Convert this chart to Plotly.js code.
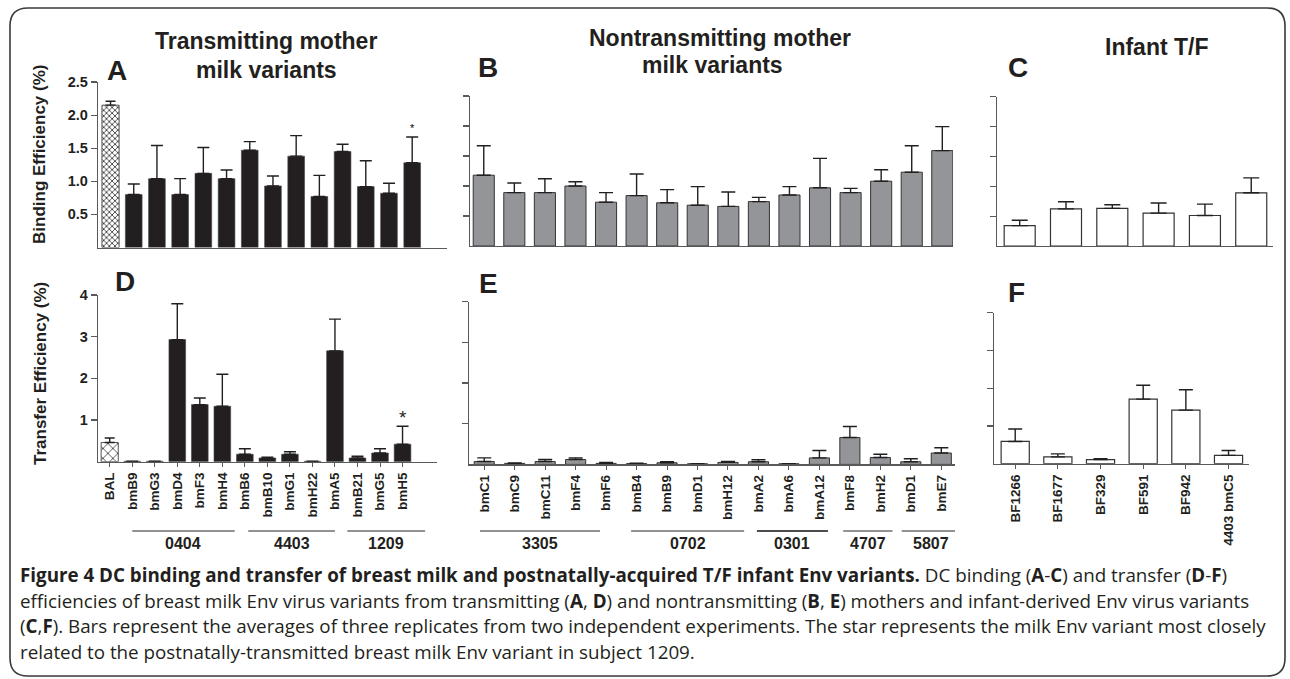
<!DOCTYPE html>
<html><head><meta charset="utf-8">
<script src="https://cdn.plot.ly/plotly-3.0.1.min.js"></script>
<style>html,body{margin:0;padding:0;background:#fff}#chart{width:1290px;height:679px}</style>
</head><body><div id="chart"></div>
<script>
// ---------- data ----------
const transLabels = ['BAL','bmB9','bmG3','bmD4','bmF3','bmH4','bmB6','bmB10','bmG1','bmH22','bmA5','bmB21','bmG5','bmH5'];
const transBinding    = [2.15,0.80,1.04,0.80,1.12,1.04,1.47,0.93,1.38,0.77,1.45,0.92,0.82,1.28];
const transBindingErr = [0.06,0.16,0.50,0.24,0.39,0.13,0.13,0.15,0.31,0.32,0.11,0.39,0.15,0.39];
const transTransfer    = [0.46,0.01,0.01,2.93,1.37,1.33,0.18,0.09,0.18,0.01,2.66,0.09,0.21,0.42];
const transTransferErr = [0.11,0.00,0.00,0.86,0.16,0.77,0.13,0.015,0.06,0.00,0.76,0.04,0.10,0.43];

const nonLabels = ['bmC1','bmC9','bmC11','bmF4','bmF6','bmB4','bmB9','bmD1','bmH12','bmA2','bmA6','bmA12','bmF8','bmH2','bmD1','bmE7'];
const nonBinding    = [1.18,0.89,0.89,1.00,0.73,0.84,0.72,0.68,0.66,0.74,0.85,0.97,0.89,1.08,1.23,1.59];
const nonBindingErr = [0.49,0.16,0.23,0.07,0.16,0.36,0.22,0.31,0.24,0.07,0.14,0.49,0.07,0.19,0.44,0.40];
const nonTransfer    = [0.07,0.025,0.07,0.12,0.025,0.02,0.04,0.015,0.05,0.065,0.015,0.16,0.66,0.17,0.065,0.28];
const nonTransferErr = [0.09,0.01,0.05,0.04,0.025,0.01,0.025,0.0,0.025,0.05,0.0,0.18,0.27,0.08,0.075,0.13];

const infLabels = ['BF1266','BF1677','BF329','BF591','BF942','4403 bmC5'];
const infBinding    = [0.34,0.62,0.63,0.55,0.51,0.89];
const infBindingErr = [0.09,0.12,0.06,0.17,0.19,0.25];
const infTransfer    = [0.59,0.18,0.11,1.71,1.42,0.22];
const infTransferErr = [0.33,0.08,0.02,0.37,0.54,0.13];

const bindTicks = [0.5,1.0,1.5,2.0,2.5];
const transferTicks = [1,2,3,4];

// subject groups: [label, extent start, extent end] in category-index units
const transGroups = [['0404',1.0,5.55],['4403',6.15,10.0],['1209',10.55,14.0]];
const nonGroups = [['3305',-0.14,3.8],['0702',4.82,8.53],['0301',8.95,11.28],['4707',11.78,13.4],['5807',13.7,15.6]];

// ---------- helpers ----------
const W = 1290, H = 679;
const fx = p => p / W;
const fy = p => 1 - p / H;
const idx = a => a.map((_, i) => i);
const zeros = a => a.map(() => 0);
const INK = '#231f20';
const AX = '#58595b';
const FONT = 'Liberation Sans, Arial, Helvetica, sans-serif';

function errY(arr, w) {
  return {type:'data', symmetric:false, array:arr, arrayminus:zeros(arr), color:INK, thickness:1.4, width:w};
}

const traces = [];
// A : binding, transmitting
traces.push({type:'bar', x:[0], y:transBinding.slice(0,1), width:0.74, xaxis:'x', yaxis:'y',
  marker:{color:'#ffffff', line:{color:'#555', width:1}, pattern:{shape:'x', fgcolor:'#222', bgcolor:'#fff', size:4, solidity:0.35}},
  error_y:errY(transBindingErr.slice(0,1),5)});
traces.push({type:'bar', x:idx(transBinding).slice(1), y:transBinding.slice(1), width:0.72, xaxis:'x', yaxis:'y',
  marker:{color:INK, line:{color:'#444', width:0.6}}, error_y:errY(transBindingErr.slice(1),6)});
// B
traces.push({type:'bar', x:idx(nonBinding), y:nonBinding, width:0.69, xaxis:'x2', yaxis:'y2',
  marker:{color:'#939598', line:{color:'#333', width:1}}, error_y:errY(nonBindingErr,7)});
// C
traces.push({type:'bar', x:idx(infBinding), y:infBinding, width:0.67, xaxis:'x3', yaxis:'y3',
  marker:{color:'#ffffff', line:{color:'#333', width:1.2}}, error_y:errY(infBindingErr,8)});
// D
traces.push({type:'bar', x:[0], y:transTransfer.slice(0,1), width:0.76, xaxis:'x4', yaxis:'y4',
  marker:{color:'#ffffff', line:{color:'#555', width:1}, pattern:{shape:'x', fgcolor:'#222', bgcolor:'#fff', size:7, solidity:0.2}},
  error_y:errY(transTransferErr.slice(0,1),5)});
traces.push({type:'bar', x:idx(transTransfer).slice(1), y:transTransfer.slice(1), width:0.74, xaxis:'x4', yaxis:'y4',
  marker:{color:INK, line:{color:'#444', width:0.6}}, error_y:errY(transTransferErr.slice(1),6)});
// E
traces.push({type:'bar', x:idx(nonTransfer), y:nonTransfer, width:0.66, xaxis:'x5', yaxis:'y5',
  marker:{color:'#939598', line:{color:'#333', width:1}}, error_y:errY(nonTransferErr,7)});
// F
traces.push({type:'bar', x:idx(infTransfer), y:infTransfer, width:0.66, xaxis:'x6', yaxis:'y6',
  marker:{color:'#ffffff', line:{color:'#333', width:1.2}}, error_y:errY(infTransferErr,7)});

const baseAx = {showgrid:false, zeroline:false, showline:true, linecolor:AX, linewidth:1.3, fixedrange:true};
const tickFontY = {family:FONT, size:14.5, color:INK, weight:'bold'};
const tickFontX = {family:FONT, size:13.5, color:INK, weight:'bold'};

function xAx(domain, range, anchor, labels) {
  const o = Object.assign({}, baseAx, {domain:domain, range:range, anchor:anchor});
  if (labels) {
    Object.assign(o, {tickmode:'array', tickvals:idx(labels), ticktext:labels, tickangle:-90,
      ticks:'outside', ticklen:4, tickwidth:1, tickcolor:AX, tickfont:tickFontX, showticklabels:true});
  } else {
    Object.assign(o, {showticklabels:false, ticks:''});
  }
  return o;
}
function yAx(domain, range, anchor, tv, showLabels) {
  return Object.assign({}, baseAx, {domain:domain, range:range, anchor:anchor, tickmode:'array', tickvals:tv,
    tickformat: tv === bindTicks ? '.1f' : 'd', ticks:'outside', ticklen:6, tickwidth:1.2, tickcolor:AX,
    showticklabels:showLabels, tickfont:tickFontY});
}

const layout = {
  width:W, height:H, margin:{l:0,r:0,t:0,b:0}, paper_bgcolor:'#fff', plot_bgcolor:'rgba(0,0,0,0)',
  showlegend:false, barmode:'overlay',
  xaxis:  xAx([fx(98), fx(447)], [-0.54, 14.5], 'y', null),
  yaxis:  yAx([fy(247.5), fy(82)], [0, 2.5], 'x', bindTicks, true),
  xaxis2: xAx([fx(470), fx(953)], [-0.45, 15.35], 'y2', null),
  yaxis2: yAx([fy(246), fy(96)], [0, 2.5], 'x2', bindTicks, false),
  xaxis3: xAx([fx(997), fx(1273)], [-0.49, 5.47], 'y3', null),
  yaxis3: yAx([fy(246), fy(96.5)], [0, 2.5], 'x3', bindTicks, false),
  xaxis4: xAx([fx(98), fx(437)], [-0.52, 14.53], 'y4', transLabels),
  yaxis4: yAx([fy(461.7), fy(295)], [0, 4], 'x4', transferTicks, true),
  xaxis5: xAx([fx(469.3), fx(955)], [-0.49, 15.45], 'y5', nonLabels),
  yaxis5: yAx([fy(464.4), fy(301.7)], [0, 4], 'x5', transferTicks, false),
  xaxis6: xAx([fx(994.3), fx(1249)], [-0.49, 5.48], 'y6', infLabels),
  yaxis6: yAx([fy(463.7), fy(312.7)], [0, 4], 'x6', transferTicks, false),
  shapes: [], annotations: []
};

// rounded outer frame
(function(){
  const x0 = fx(10), x1 = fx(1285), y0 = fy(676), y1 = fy(8), rx = 18/W, ry = 18/H;
  const p = `M ${x0+rx},${y1} L ${x1-rx},${y1} Q ${x1},${y1} ${x1},${y1-ry} L ${x1},${y0+ry} Q ${x1},${y0} ${x1-rx},${y0} L ${x0+rx},${y0} Q ${x0},${y0} ${x0},${y0+ry} L ${x0},${y1-ry} Q ${x0},${y1} ${x0+rx},${y1} Z`;
  layout.shapes.push({type:'path', xref:'paper', yref:'paper', path:p, line:{color:'#3a3a3a', width:1.6}, fillcolor:'rgba(0,0,0,0)'});
})();

function ann(text, xp, yp, size, opts) {
  layout.annotations.push(Object.assign({text:text, xref:'paper', yref:'paper', x:fx(xp), y:fy(yp),
    xanchor:'center', yanchor:'middle', showarrow:false, font:{family:FONT, size:size, color:INK, weight:'bold'}}, opts||{}));
}
// panel titles
ann('Transmitting mother', 266, 41, 23);
ann('milk variants', 266, 70, 23);
ann('Nontransmitting mother', 720, 38, 23);
ann('milk variants', 712, 65, 23);
ann('Infant T/F', 1156, 47, 23);
// panel letters
ann('A', 117, 71, 28); ann('B', 488, 68, 28); ann('C', 1018, 68, 28);
ann('D', 125, 281, 28); ann('E', 488, 283, 28); ann('F', 1016, 292, 28);
// y titles
ann('Binding Efficiency (%)', 40, 155, 17, {textangle:-90});
ann('Transfer Efficiency (%)', 40, 374, 17, {textangle:-90});

// stars on last transmitting variant
const last = transLabels.length - 1;
layout.annotations.push({text:'*', xref:'x', yref:'y', x:last, y:transBinding[last]+transBindingErr[last],
  yanchor:'bottom', showarrow:false, font:{family:FONT, size:11, color:'#000000'}, yshift:1});
layout.annotations.push({text:'*', xref:'x4', yref:'y4', x:last, y:transTransfer[last]+transTransferErr[last],
  yanchor:'bottom', showarrow:false, font:{family:FONT, size:19, color:INK}, yshift:-4});

// group lines & labels
function groups(list, xref, blackIdx) {
  list.forEach((g, i) => {
    layout.shapes.push({type:'line', xref:xref, yref:'paper', x0:g[1], x1:g[2], y0:fy(531), y1:fy(531),
      line:{color: i === blackIdx ? '#111' : '#6d6e71', width:1.5}});
    layout.annotations.push({text:g[0], xref:xref, yref:'paper', x:(g[1]+g[2])/2, y:fy(543), xanchor:'center', yanchor:'middle',
      showarrow:false, font:{family:FONT, size:16, color:INK, weight:'bold'}});
  });
}
groups(transGroups, 'x4', -1);
groups(nonGroups, 'x5', 2);

// caption
const CAP = 'Open Sans, Noto Sans, sans-serif';
const capLines = [
  '<b>Figure 4 DC binding and transfer of breast milk and postnatally-acquired T/F infant Env variants.</b> DC binding (<b>A</b>-<b>C</b>) and transfer (<b>D</b>-<b>F</b>)',
  'efficiencies of breast milk Env virus variants from transmitting (<b>A</b>, <b>D</b>) and nontransmitting (<b>B</b>, <b>E</b>) mothers and infant-derived Env virus variants',
  '(<b>C</b>,<b>F</b>). Bars represent the averages of three replicates from two independent experiments. The star represents the milk Env variant most closely',
  'related to the postnatally-transmitted breast milk Env variant in subject 1209.'
];
const capY = [575, 600.5, 626, 651.5];
capLines.forEach((t, i) => {
  layout.annotations.push({text:t, xref:'paper', yref:'paper', x:fx(18), y:fy(capY[i]), xanchor:'left', yanchor:'middle',
    showarrow:false, align:'left', font:{family:CAP, size:18.8, color:INK}});
});

Plotly.newPlot('chart', traces, layout, {staticPlot:true, displayModeBar:false});
</script>
</body></html>
